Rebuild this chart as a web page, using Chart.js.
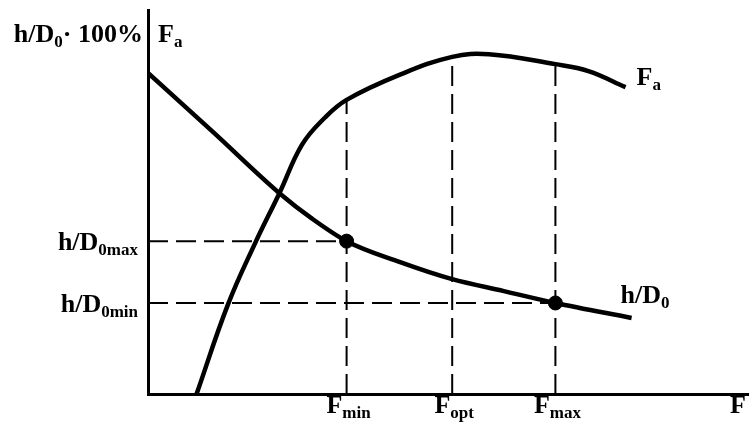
<!DOCTYPE html>
<html>
<head>
<meta charset="utf-8">
<script src="https://cdn.jsdelivr.net/npm/chart.js@4.4.1/dist/chart.umd.min.js"></script>
<style>
    html, body { margin: 0; padding: 0; background: #fff; }
    #wrap { width: 756px; height: 438px; }
</style>
</head>
<body>
<div id="wrap"><canvas id="rollChart" width="756" height="438"></canvas></div>
<script>
// F axis marks (arbitrary units 0..100)
const fMarks = [33.1, 50.7, 67.9];
const fMarkSubs = ['min', 'opt', 'max'];

// h/D0 curve
const hdX = [0, 11.0, 21.9, 27.4, 33.1, 41.9, 50.7, 59.3, 67.9, 80.6];
const hdY = [83.6, 68.0, 52.3, 45.6, 39.8, 34.4, 29.9, 26.8, 23.7, 19.8];

// Fa curve
const faX = [8.1, 13.3, 17.8, 21.9, 25.7, 29.5, 33.1, 41.9, 50.7, 56.8, 67.9, 73.4, 79.6];
const faY = [0, 23.2, 39.1, 52.3, 65.0, 72.0, 76.6, 83.1, 87.8, 88.5, 85.9, 84.1, 79.9];

// h/D0 levels at Fmin and Fmax
const hdLevels = [39.8, 23.7];
const hdLevelSubs = ['0max', '0min'];

const toPoints = (xs, ys) => xs.map((x, i) => ({ x: x, y: ys[i] }));
const faAt = x => faY[faX.indexOf(x)];

const FONT = '"Liberation Serif", "DejaVu Serif", serif';

function drawSub(ctx, parts, x, y, align) {
    // parts: [text, isSubscript]
    let total = 0;
    parts.forEach(p => {
        ctx.font = p[1] ? `bold 17px ${FONT}` : `bold 26px ${FONT}`;
        total += ctx.measureText(p[0]).width;
    });
    let cx = align === 'right' ? x - total : (align === 'center' ? x - total / 2 : x);
    parts.forEach(p => {
        ctx.font = p[1] ? `bold 17px ${FONT}` : `bold 26px ${FONT}`;
        ctx.fillText(p[0], cx, p[1] ? y + 5 : y);
        cx += ctx.measureText(p[0]).width;
    });
}

const labelPlugin = {
    id: 'labels',
    afterDraw(chart) {
        const ctx = chart.ctx;
        const xs = chart.scales.x, ys = chart.scales.y;
        const area = chart.chartArea;
        ctx.save();
        ctx.fillStyle = '#000';
        ctx.textBaseline = 'alphabetic';

        // axis titles at top
        drawSub(ctx, [['h/D', false], ['0', true], ['· 100%', false]], area.left - 5, area.top + 32, 'right');
        drawSub(ctx, [['F', false], ['a', true]], area.left + 10, area.top + 32, 'left');

        // F ticks
        fMarks.forEach((m, i) => {
            drawSub(ctx, [['F', false], [fMarkSubs[i], true]], xs.getPixelForValue(m) + 2, area.bottom + 19, 'center');
        });
        drawSub(ctx, [['F', false]], area.right - 10, area.bottom + 19, 'center');

        // h/D0 levels
        hdLevels.forEach((v, i) => {
            drawSub(ctx, [['h/D', false], [hdLevelSubs[i], true]], area.left - 10, ys.getPixelForValue(v) + 9, 'right');
        });

        // curve names
        const faEndX = xs.getPixelForValue(faX[faX.length - 1]);
        const faEndY = ys.getPixelForValue(faY[faY.length - 1]);
        drawSub(ctx, [['F', false], ['a', true]], faEndX + 11, faEndY - 2, 'left');
        const hdEndX = xs.getPixelForValue(hdX[hdX.length - 1]);
        const hdEndY = ys.getPixelForValue(hdY[hdY.length - 1]);
        drawSub(ctx, [['h/D', false], ['0', true]], hdEndX - 11, hdEndY - 15, 'left');
        ctx.restore();
    }
};

const dashStyle = {
    showLine: true,
    borderColor: '#000',
    borderWidth: 2,
    borderDash: [20, 8],
    pointRadius: 0,
    fill: false
};

const datasets = [
    {
        label: 'h/D0',
        data: toPoints(hdX, hdY),
        showLine: true,
        borderColor: '#000',
        borderWidth: 4.5,
        pointRadius: 0,
        cubicInterpolationMode: 'monotone'
    },
    {
        label: 'Fa',
        data: toPoints(faX, faY),
        showLine: true,
        borderColor: '#000',
        borderWidth: 4.5,
        pointRadius: 0,
        tension: 0.4
    },
    {
        label: 'points',
        data: [{ x: fMarks[0], y: hdLevels[0] }, { x: fMarks[2], y: hdLevels[1] }],
        showLine: false,
        pointRadius: 7,
        backgroundColor: '#000',
        borderColor: '#000'
    }
];

// vertical dashed lines up to the Fa curve
fMarks.forEach(m => {
    datasets.push(Object.assign({}, dashStyle, { data: [{ x: m, y: 0 }, { x: m, y: faAt(m) }] }));
});
// horizontal dashed lines to the h/D0 points
datasets.push(Object.assign({}, dashStyle, { data: [{ x: 0, y: hdLevels[0] }, { x: fMarks[0], y: hdLevels[0] }] }));
datasets.push(Object.assign({}, dashStyle, { data: [{ x: 0, y: hdLevels[1] }, { x: fMarks[2], y: hdLevels[1] }] }));

new Chart(document.getElementById('rollChart'), {
    type: 'scatter',
    data: { datasets: datasets },
    options: {
        responsive: false,
        animation: false,
        layout: { padding: { left: 140, right: 6, top: 10, bottom: 36 } },
        plugins: {
            legend: { display: false },
            tooltip: { enabled: false }
        },
        scales: {
            x: {
                type: 'linear',
                min: 0,
                max: 100,
                ticks: { display: false },
                grid: { display: false },
                border: { display: true, color: '#000', width: 3 }
            },
            y: {
                type: 'linear',
                min: 0,
                max: 100,
                ticks: { display: false },
                grid: { display: false },
                border: { display: true, color: '#000', width: 3 }
            }
        }
    },
    plugins: [labelPlugin]
});
</script>
</body>
</html>
